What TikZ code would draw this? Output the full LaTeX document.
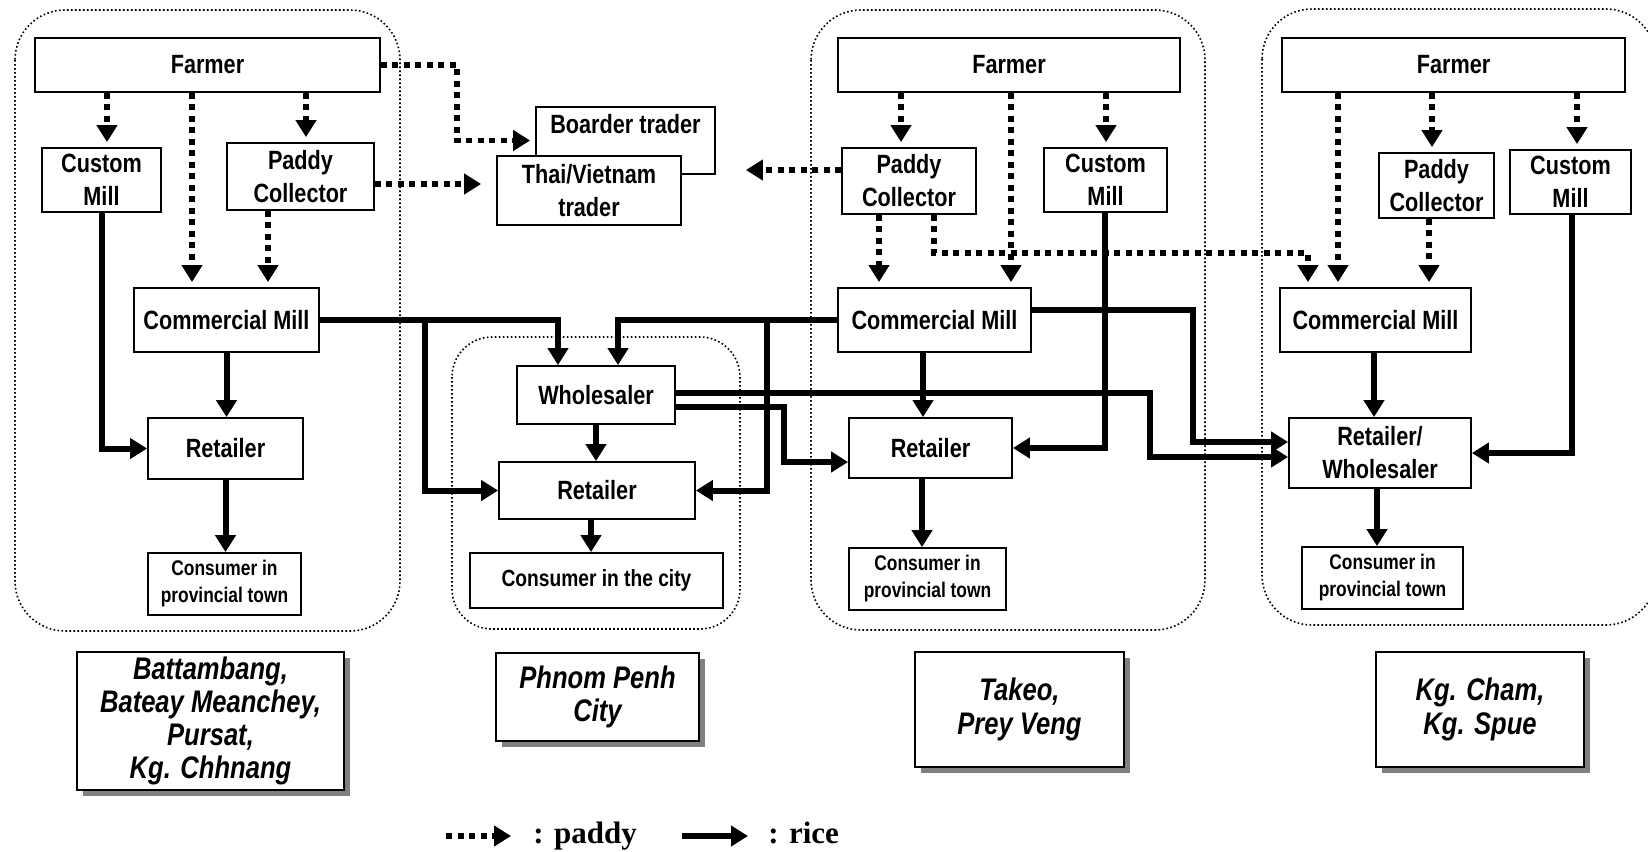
\documentclass[tikz,border=0pt]{standalone}
\usepackage{fontspec}
\setmainfont{Liberation Sans}[FakeStretch=0.82]
\newfontfamily\legfont{Liberation Serif}
\usetikzlibrary{arrows.meta,shadows}
\tikzset{
  box/.style={draw, line width=0.9pt, fill=white, inner sep=0pt, align=center,
    font=\bfseries\fontsize{13.2}{16.5}\selectfont},
  smalltxt/.style={font=\bfseries\fontsize{10.6}{13.5}\selectfont},
  citytxt/.style={font=\bfseries\fontsize{11.7}{14}\selectfont},
  loc/.style={draw, line width=1pt, fill=white, inner sep=0pt, align=center,
    font=\bfseries\itshape\fontsize{15.6}{16.6}\selectfont,
    drop shadow={shadow xshift=2.75pt, shadow yshift=-3pt, fill=black!50, opacity=1}},
  region/.style={line width=0.8pt, dash pattern=on 0.8pt off 1.2pt, rounded corners=25pt},
  pd/.style={line width=2.75pt, dash pattern=on 3pt off 2.75pt,
    -{Triangle[width=10pt,length=8.5pt]}, shorten >=2.5pt},
  rc/.style={line width=3pt, -{Triangle[width=10pt,length=8.5pt]}},
  legtxt/.style={inner sep=0pt, font=\legfont\bfseries\fontsize{15.5}{18}\selectfont},
}
% \bnode[style]{name}{x1}{y1}{x2}{y2}{text}  (pixel coordinates)
\newcommand\bnode[7][box]{%
  \pgfmathsetmacro\nbW{(#5-#3)*0.5}%
  \pgfmathsetmacro\nbH{(#6-#4)*0.5}%
  \pgfmathsetmacro\nbX{(#3+#5)/2}%
  \pgfmathsetmacro\nbY{(#4+#6)/2}%
  \node[#1, minimum width=\nbW pt, minimum height=\nbH pt] (#2) at (\nbX,\nbY) {#7};}
\begin{document}
\begin{tikzpicture}[x=0.5pt, y=-0.5pt]
\useasboundingbox (0,0) rectangle (1648,851);
\clip (0,0) rectangle (1648,851);

% regions
\draw[region] (15,10) rectangle (400,631);
\draw[region, rounded corners=20pt] (452,337) rectangle (740,629);
\draw[region] (811,10) rectangle (1205,630);
\draw[region] (1262,9) rectangle (1656,625);

% region 1
\bnode{f1}{35}{38}{380}{92}{Farmer}
\bnode{cm1}{42}{148}{161}{212}{Custom\\Mill}
\bnode{pc1}{227}{143}{374}{210}{Paddy\\Collector}
\bnode{com1}{134}{288}{319}{352}{Commercial Mill}
\bnode{r1}{148}{418}{303}{479}{Retailer}
\bnode[box,smalltxt]{c1}{148}{553}{301}{615}{Consumer in\\provincial town}

% traders
\bnode{bt}{536}{107}{715}{174}{}
\node[inner sep=0pt, font=\bfseries\fontsize{13.2}{16.5}\selectfont] (btt) at (625.5,124) {Boarder trader};
\bnode{tv}{497}{156}{681}{225}{Thai/Vietnam\\trader}

% region 2
\bnode{w2}{517}{366}{675}{424}{Wholesaler}
\bnode{r2}{499}{462}{695}{519}{Retailer}
\bnode[box,citytxt]{c2}{470}{553}{723}{608}{Consumer in the city}

% region 3
\bnode{f3}{838}{38}{1180}{92}{Farmer}
\bnode{pc3}{842}{148}{976}{214}{Paddy\\Collector}
\bnode{cm3}{1044}{148}{1167}{212}{Custom\\Mill}
\bnode{com3}{838}{288}{1031}{352}{Commercial Mill}
\bnode{r3}{849}{418}{1012}{478}{Retailer}
\bnode[box,smalltxt]{c3}{849}{548}{1006}{610}{Consumer in\\provincial town}

% region 4
\bnode{f4}{1282}{38}{1625}{92}{Farmer}
\bnode{pc4}{1379}{153}{1494}{218}{Paddy\\Collector}
\bnode{cm4}{1510}{150}{1631}{214}{Custom\\Mill}
\bnode{com4}{1280}{288}{1471}{352}{Commercial Mill}
\bnode{rw4}{1289}{418}{1471}{488}{Retailer/\\Wholesaler}
\bnode[box,smalltxt]{c4}{1302}{547}{1463}{609}{Consumer in\\provincial town}

% location boxes
\bnode[loc]{l1}{77}{652}{344}{790}{Battambang,\\Bateay Meanchey,\\Pursat,\\Kg. Chhnang}
\bnode[loc]{l2}{496}{653}{699}{741}{Phnom Penh\\City}
\bnode[loc]{l3}{915}{652}{1124}{767}{Takeo,\\Prey Veng}
\bnode[loc]{l4}{1376}{652}{1584}{767}{Kg. Cham,\\Kg. Spue}

% paddy flows
\draw[pd] (f1.south -| 107,0) -- (cm1.north -| 107,0);
\draw[pd] (f1.south -| 192,0) -- (com1.north -| 192,0);
\draw[pd] (f1.south -| 306,0) -- (pc1.north -| 306,0);
\draw[pd] (pc1.south -| 268,0) -- (com1.north -| 268,0);
\draw[pd] (f1.east) -| (457,140.5) -- (bt.west);
\draw[pd, shorten >=7.5pt] (pc1.east |- 0,184) -- (tv.west |- 0,184);
\draw[pd, shorten >=32pt] (pc3.west |- 0,170) -- (tv.east |- 0,170);
\draw[pd] (f3.south -| 901,0) -- (pc3.north -| 901,0);
\draw[pd] (f3.south -| 1011,0) -- (com3.north -| 1011,0);
\draw[pd] (f3.south -| 1106,0) -- (cm3.north -| 1106,0);
\draw[pd] (pc3.south -| 879,0) -- (com3.north -| 879,0);
\draw[pd] (pc3.south -| 934,0) |- (1308,253) -- (com4.north -| 1308,0);
\draw[pd] (f4.south -| 1338,0) -- (com4.north -| 1338,0);
\draw[pd] (f4.south -| 1432,0) -- (pc4.north -| 1432,0);
\draw[pd] (f4.south -| 1577,0) -- (cm4.north -| 1577,0);
\draw[pd] (pc4.south -| 1429,0) -- (com4.north -| 1429,0);

% rice flows
\draw[rc] (cm1.south -| 102,0) |- (r1.west);
\draw[rc] (com1.south) -- (com1.south |- r1.north);
\draw[rc] (r1.south) -- (r1.south |- c1.north);
\draw[rc] (com1.east) -| (w2.north -| 558,0);
\draw[rc] (com1.east) -- (425,320) |- (r2.west);
\draw[rc] (com3.west) -| (w2.north -| 618,0);
\draw[rc] (com3.west) -- (767,320) |- (r2.east);
\draw[rc] (w2.south) -- (w2.south |- r2.north);
\draw[rc] (r2.south -| 591,0) -- (c2.north -| 591,0);
\draw[rc] (w2.east |- 0,407) -- (784,407) |- (r3.west |- 0,462);
\draw[rc] (w2.east |- 0,393) -- (1150,393) |- (rw4.west |- 0,457);
\draw[rc] (com3.east |- 0,310) -- (1193,310) |- (rw4.west |- 0,442);
\draw[rc] (cm3.south -| 1105,0) |- (r3.east |- 0,448);
\draw[rc] (com3.south -| 923,0) -- (r3.north -| 923,0);
\draw[rc] (r3.south -| 922,0) -- (c3.north -| 922,0);
\draw[rc] (com4.south -| 1374,0) -- (rw4.north -| 1374,0);
\draw[rc] (rw4.south -| 1377,0) -- (c4.north -| 1377,0);
\draw[rc] (cm4.south -| 1572,0) |- (rw4.east |- 0,453);

% legend
\coordinate (lp1) at (446,836);
\coordinate (lp2) at (511,836);
\draw[pd, shorten >=0pt] (lp1) -- (lp2);
\node[legtxt, anchor=base west] (lpt) at (533,843) {: paddy};
\coordinate (lr1) at (682,836);
\coordinate (lr2) at (748,836);
\draw[rc] (lr1) -- (lr2);
\node[legtxt, anchor=base west] (lrt) at (768,843) {: rice};
\end{tikzpicture}
\end{document}
